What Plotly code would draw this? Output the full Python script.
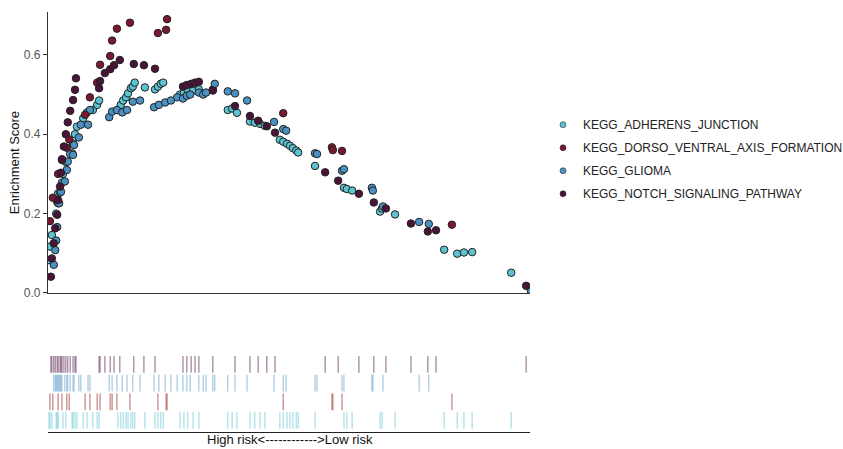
import plotly.graph_objects as go

# ---------------- data (x = position in ranked gene list, % ; y = running enrichment score) -------------
pathways = ["KEGG_ADHERENS_JUNCTION", "KEGG_DORSO_VENTRAL_AXIS_FORMATION",
            "KEGG_GLIOMA", "KEGG_NOTCH_SIGNALING_PATHWAY"]
colors = ["#5BC3D1", "#7A1830", "#4A92C4", "#4A1438"]
bar_colors = ["rgba(91,195,209,0.55)", "rgba(160,60,60,0.65)",
              "rgba(74,146,196,0.5)", "rgba(90,40,80,0.6)"]

adh_x = [0.2, 0.4, 0.8, 1.7, 1.9, 2.1, 3.1, 3.7, 5.0, 5.2, 5.6, 6.0, 7.3, 8.1, 9.3, 10.2, 10.6,
         14.5, 15.1, 15.6, 16.2, 16.6, 17.2, 17.6, 18.0, 20.1, 22.2, 22.8, 23.4, 23.9,
         27.4, 28.2, 29.0, 30.1, 31.3, 37.3, 38.2, 39.2, 41.9, 42.9, 44.0, 45.0,
         48.1, 48.8, 49.6, 50.2, 50.8, 51.5, 51.9, 55.4, 61.4, 62.0, 63.1, 68.9, 69.3, 72.0,
         82.2, 84.9, 86.3, 88.0, 96.1]
adh_y = [0.083, 0.117, 0.146, 0.20, 0.23, 0.251, 0.30, 0.33, 0.352, 0.377, 0.40, 0.419, 0.44, 0.455,
         0.461, 0.474, 0.485,
         0.461, 0.474, 0.485, 0.493, 0.503, 0.516, 0.52, 0.53, 0.518, 0.513, 0.52, 0.527, 0.53,
         0.50, 0.505, 0.51, 0.51, 0.513, 0.461, 0.465, 0.454, 0.432, 0.429, 0.426, 0.421,
         0.386, 0.381, 0.376, 0.371, 0.365, 0.359, 0.354, 0.32, 0.265, 0.262, 0.258, 0.205, 0.213, 0.198,
         0.109, 0.099, 0.102, 0.103, 0.051]

dor_x = [0.4, 1.0, 2.1, 2.9, 3.9, 4.4, 7.7, 8.7, 10.2, 10.8, 12.9, 13.3, 14.3, 17.0,
         22.8, 24.5, 24.7, 48.8, 58.9, 59.1, 61.0, 83.8]
dor_y = [0.181, 0.24, 0.30, 0.335, 0.366, 0.387, 0.449, 0.493, 0.53, 0.575, 0.597, 0.636, 0.666, 0.681,
         0.655, 0.663, 0.69, 0.453, 0.367, 0.36, 0.358, 0.172]

gli_x = [1.2, 1.5, 1.7, 1.9, 2.1, 2.3, 2.5, 2.7, 2.9, 3.5, 3.9, 4.1, 4.6, 5.2, 5.4, 6.4, 6.8, 8.3, 8.7,
         12.7, 13.3, 14.3, 15.4, 16.4, 17.6, 19.1, 22.0, 23.0, 24.3, 25.5, 26.8, 28.0, 28.8, 29.5,
         31.3, 32.2, 32.8, 34.2, 34.6, 37.3, 38.8, 41.3, 46.9, 48.8, 49.4, 55.4, 55.8, 61.0, 61.4,
         67.2, 67.4, 69.5, 77.0, 79.0, 100.2]
gli_y = [0.071, 0.108, 0.132, 0.166, 0.226, 0.226, 0.253, 0.255, 0.278, 0.281, 0.31, 0.331, 0.35, 0.348,
         0.373, 0.392, 0.424, 0.424, 0.461,
         0.443, 0.457, 0.461, 0.455, 0.461, 0.482, 0.485, 0.468, 0.474, 0.48, 0.485, 0.493, 0.49, 0.497,
         0.5, 0.505, 0.5, 0.505, 0.513, 0.527, 0.508, 0.503, 0.485, 0.431, 0.413, 0.409, 0.352, 0.35,
         0.308, 0.312, 0.265, 0.258, 0.218, 0.179, 0.174, 0.005]

not_x = [0.6, 0.8, 1.2, 1.5, 1.9, 2.1, 2.5, 2.7, 2.9, 3.3, 3.7, 4.1, 4.6, 5.2, 5.6, 5.8,
         10.6, 10.8, 11.8, 12.9, 13.7, 14.9, 17.8, 19.9, 22.2, 28.0, 28.8, 29.7, 30.5, 31.3,
         34.2, 38.8, 41.9, 43.6, 45.4, 47.1, 57.5, 60.2, 64.5, 67.6, 70.1, 75.3, 78.8, 80.5, 99.2]
not_y = [0.041, 0.087, 0.125, 0.163, 0.197, 0.234, 0.268, 0.303, 0.337, 0.369, 0.40, 0.43, 0.459,
         0.486, 0.512, 0.541,
         0.516, 0.534, 0.554, 0.564, 0.574, 0.587, 0.577, 0.574, 0.565, 0.52, 0.524, 0.527, 0.53, 0.532,
         0.51, 0.471, 0.446, 0.434, 0.42, 0.404, 0.304, 0.283, 0.25, 0.228, 0.213, 0.175, 0.155, 0.158,
         0.018]

series_x = [adh_x, dor_x, gli_x, not_x]
series_y = [adh_y, dor_y, gli_y, not_y]

y_ticks = [0.0, 0.2, 0.4, 0.6]
y_ticktext = ["0.0", "0.2", "0.4", "0.6"]
x_label = "High risk<------------>Low risk"
y_label = "Enrichment Score"

FONT = "Liberation Sans, Arial, Helvetica, sans-serif"

fig = go.Figure()

# barcode rows (row 0 = bottom)
for i, (xs, c) in enumerate(zip(series_x, bar_colors)):
    bx, by = [], []
    for h in xs:
        bx += [h, h, None]
        by += [i + 0.05, i + 0.95, None]
    fig.add_trace(go.Scatter(x=bx, y=by, mode="lines", line=dict(color=c, width=1.2),
                             xaxis="x2", yaxis="y2", showlegend=False, hoverinfo="skip"))

# scatter points
for idx in [0, 2, 1, 3]:
    fig.add_trace(go.Scatter(x=series_x[idx], y=series_y[idx], mode="markers",
                             marker=dict(size=7.5, color=colors[idx],
                                         line=dict(color="#222", width=1.0)),
                             showlegend=False, name=pathways[idx]))

# legend entries
for i, (name, c) in enumerate(zip(pathways, colors)):
    fig.add_trace(go.Scatter(x=[None], y=[None], mode="markers", name=name,
                             legendgroup=name,
                             marker=dict(size=6, color=c, line=dict(color="#2a2a2a", width=0.6))))

fig.update_layout(
    width=843, height=449,
    margin=dict(l=48, r=313, t=12, b=17, autoexpand=False),
    paper_bgcolor="white", plot_bgcolor="white",
    font=dict(family=FONT, size=11, color="#222"),
    xaxis=dict(domain=[0, 1], range=[0, 100], anchor="y", showline=True, linecolor="#333",
               linewidth=1.3, showticklabels=False, ticks="", showgrid=False, zeroline=False),
    yaxis=dict(domain=[0.331, 1], range=[0, 0.708], anchor="x", showline=True, linecolor="#333",
               linewidth=1.3, tickvals=y_ticks, ticktext=y_ticktext, ticks="outside", ticklen=4,
               tickcolor="#333", tickfont=dict(size=12, color="#555"), showgrid=False,
               zeroline=False),
    xaxis2=dict(domain=[0, 1], range=[0, 100], anchor="y2", showline=True, linecolor="#222",
                linewidth=1.3, showticklabels=False, ticks="", showgrid=False, zeroline=False),
    yaxis2=dict(domain=[0, 0.183], range=[-0.12, 4], anchor="x2", visible=False),
    legend=dict(x=1.027, y=0.766, xanchor="left", yanchor="top", font=dict(size=12, color="#222"),
                tracegroupgap=4, bgcolor="rgba(0,0,0,0)"),
    annotations=[
        dict(text=y_label, textangle=-90, xref="paper", yref="paper", x=-0.0705, y=0.64,
             showarrow=False, font=dict(size=13, color="#111"), xanchor="center", yanchor="middle"),
        dict(text=x_label, xref="paper", yref="paper", x=0.502, y=-0.019, showarrow=False,
             font=dict(size=13, color="#111"), xanchor="center", yanchor="middle"),
    ],
)

fig.write_html("out.html")
